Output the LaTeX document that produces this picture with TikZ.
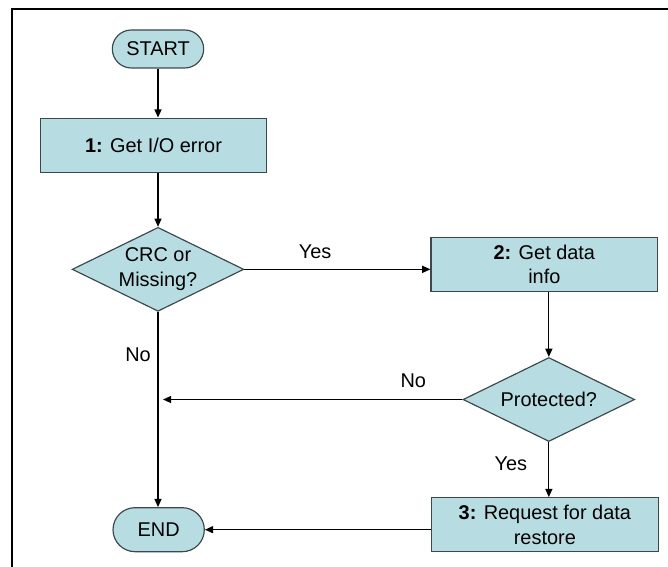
\documentclass[tikz,border=0pt]{standalone}
\usepackage{fontspec}
\setmainfont{Liberation Sans}
\usetikzlibrary{arrows.meta, shapes.geometric, positioning}
\definecolor{boxfill}{RGB}{183,221,227}
\definecolor{boxline}{RGB}{60,72,76}
\tikzset{
  term/.style={rectangle,rounded corners=0.57cm,draw=boxline,fill=boxfill,line width=1pt,minimum width=2.74cm,minimum height=1.14cm,font=\fontsize{17}{21}\selectfont},
  procbox/.style={rectangle,draw=boxline,fill=boxfill,line width=1pt,minimum width=6.8cm,minimum height=1.62cm,inner sep=1pt,align=center,font=\fontsize{17}{21}\selectfont},
  decision/.style={diamond,aspect=2,draw=boxline,fill=boxfill,line width=1pt,minimum width=5.15cm,minimum height=2.52cm,inner sep=0pt,align=center,font=\fontsize{17}{21}\selectfont},
  lbl/.style={inner sep=0pt,font=\fontsize{17}{21}\selectfont},
  arr/.style={-{Triangle[length=7pt,width=6pt]},line width=1.1pt}
}

\begin{document}
\begin{tikzpicture}
  \useasboundingbox (0,0) rectangle (20.04,17.01);
  \draw[line width=1.8pt] (0.36,0) -- (0.36,16.74) -- (20.04,16.74);

  \node[term] (start) at (4.74,15.54) {START};
  \node[procbox, below=1.47cm of start, xshift=-0.135cm] (get) {\textbf{1:} Get I/O error};
  \node[decision, below=1.62cm of get, xshift=0.135cm] (crc) {CRC or\\Missing?};
  \node[procbox, right=5.58cm of crc, yshift=0.15cm] (info) {\textbf{2:} Get data\\info};
  \node[decision, below=1.95cm of info, xshift=0.135cm] (prot) {Protected?};
  \node[procbox, below=1.65cm of prot, xshift=-0.12cm] (restore) {\textbf{3:} Request for data\\restore};
  \node[term, left=6.78cm of restore, yshift=-0.15cm, minimum height=1.32cm, rounded corners=0.66cm] (stop) {END};

  \coordinate[xshift=0.15cm] (join) at (crc.south |- prot.west);

  \draw[arr] (start.south) -- (start.south |- get.north);
  \draw[arr] (crc.north |- get.south) -- (crc.north);
  \draw[arr] (crc.east) -- (crc.east -| info.west) node[lbl, pos=0.38, yshift=0.54cm] {Yes};
  \draw[arr] (prot.north |- info.south) -- (prot.north);
  \draw[arr] (prot.west) -- (join) node[lbl, pos=0.164, yshift=0.57cm] {No};
  \draw[arr] (crc.south) -- (crc.south |- stop.north) node[lbl, pos=0.22, xshift=-0.6cm] {No};
  \draw[arr] (prot.south) -- (prot.south |- restore.north) node[lbl, pos=0.4, xshift=-1.14cm] {Yes};
  \draw[arr] (restore.west |- stop.east) -- (stop.east);
\end{tikzpicture}
\end{document}
